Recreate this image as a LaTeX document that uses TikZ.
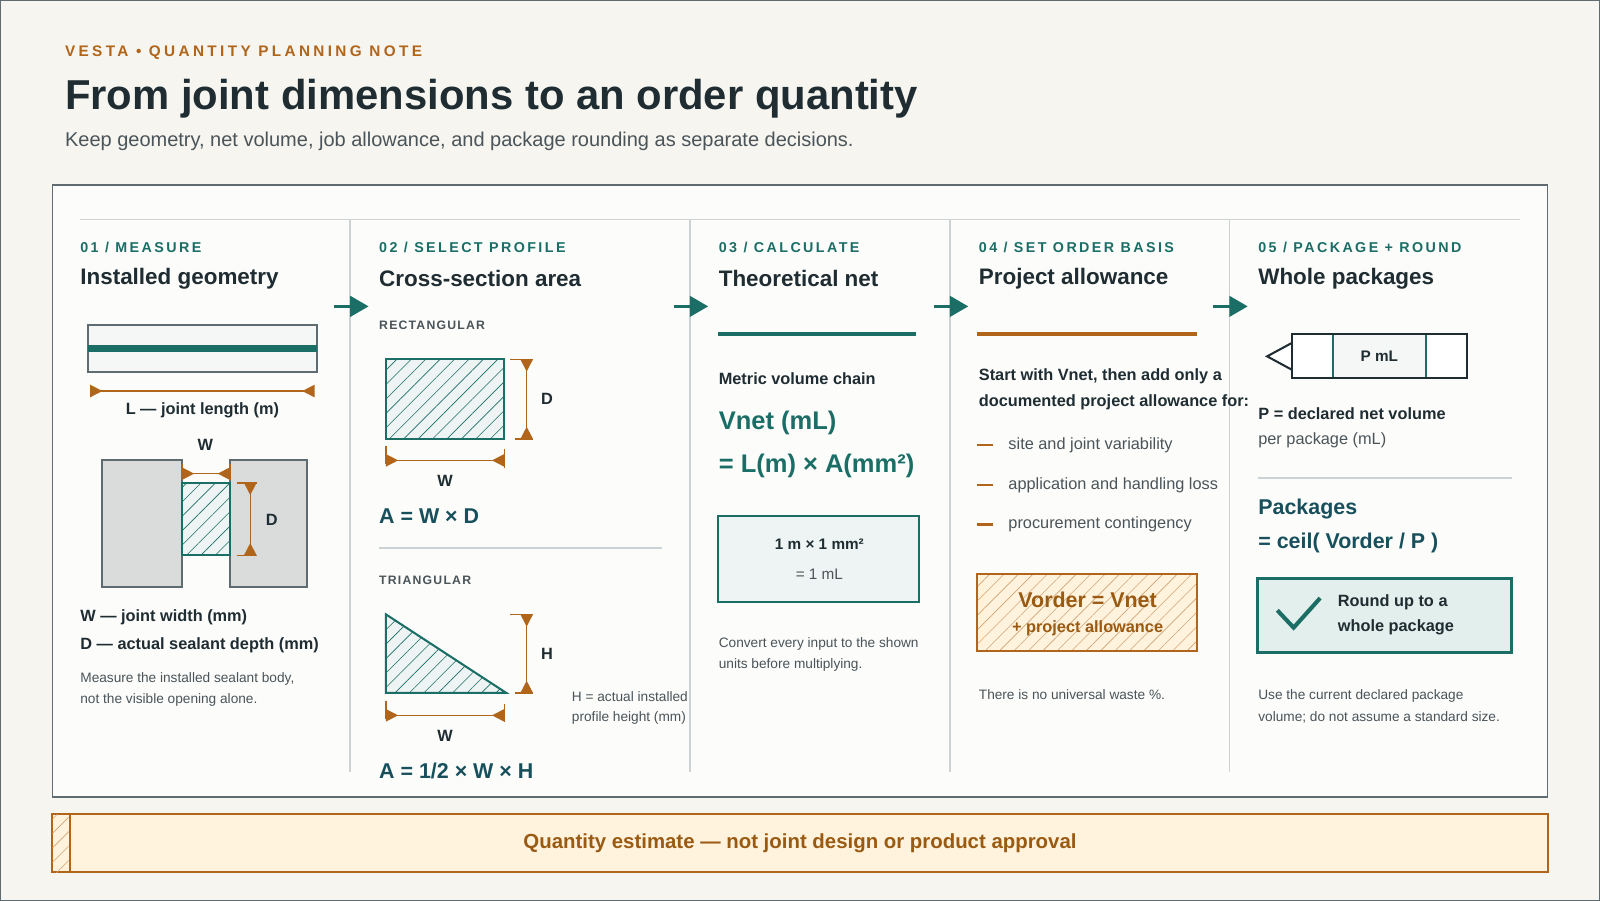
\documentclass[tikz,border=0pt]{standalone}
\usepackage{fontspec}
\setmainfont{Liberation Sans}
\usetikzlibrary{arrows.meta,patterns.meta}
\definecolor{bg}{HTML}{F6F5F0}
\definecolor{panel}{HTML}{FCFCFA}
\definecolor{teal}{HTML}{1A6E66}
\definecolor{navy}{HTML}{17505C}
\definecolor{orng}{HTML}{B0651A}
\definecolor{brown}{HTML}{9A5A12}
\definecolor{ink}{HTML}{1F2D33}
\definecolor{gtx}{HTML}{4A5459}
\definecolor{edge}{HTML}{5E6B70}
\definecolor{rule}{HTML}{CDD3D5}
\definecolor{cream}{HTML}{FFF3DE}
\definecolor{mint}{HTML}{E3EFEC}
\definecolor{pale}{HTML}{EEF4F3}
\definecolor{stone}{HTML}{D9DCDB}
\newcommand{\fs}[1]{\fontsize{#1}{#1}\selectfont}
\tikzset{
 t/.style={inner sep=0pt,anchor=west},
 stp/.style={t,font=\fs{7}\bfseries\addfontfeature{LetterSpace=17},text=teal},
 head/.style={t,font=\fs{11}\bfseries,text=ink},
 body/.style={t,font=\fs{8}\bfseries,text=ink},
 note/.style={t,font=\fs{6.7},text=gtx},
 lite/.style={t,font=\fs{8},text=gtx},
 flow/.style={teal,line width=1.5pt,-{Triangle[length=9pt,width=10pt]}},
 dim/.style={orng,line width=0.7pt,{Triangle[reversed,length=6pt,width=6pt]}-{Triangle[reversed,length=6pt,width=6pt]}},
 sep/.style={rule,line width=0.8pt},
 hatch/.style={fill=pale,draw=teal,line width=1pt},
 hl/.style={pattern={Lines[angle=45,distance=5pt,line width=0.3pt]},pattern color=teal},
}
\begin{document}
\begin{tikzpicture}[x=0.5pt,y=-0.5pt]
\path[use as bounding box,fill=bg,draw=edge] (0,0) rectangle (1568,882);
\node[t,font=\fs{7.5}\bfseries\addfontfeature{LetterSpace=22},text=orng] (kick) at (63,51) {VESTA • QUANTITY PLANNING NOTE};
\node[t,font=\fs{20.5}\bfseries,text=ink] (title) at (63,96) {From joint dimensions to an order quantity};
\node[t,font=\fs{9.8},text=gtx] (sub) at (63,138) {Keep geometry, net volume, job allowance, and package rounding as separate decisions.};
\draw[fill=panel,draw=edge,line width=0.8pt] (51,181) rectangle (1517,781);
\draw[sep] (78,215) -- (1490,215);
\foreach \x in {343,676,931,1205} \draw[sep] (\x,215) -- (\x,757);
\foreach \x in {327,660,915,1189} \draw[flow] (\x,300) -- (\x+34,300);
% headers
\node[stp] (s1) at (78,242) {01 / MEASURE};
\node[head] (h1) at (78,273) {Installed geometry};
\node[stp] (s2) at (371,242) {02 / SELECT PROFILE};
\node[head] (h2) at (371,273) {Cross-section area};
\node[stp] (s3) at (704,242) {03 / CALCULATE};
\node[head] (h3) at (704,273) {Theoretical net};
\node[stp] (s4) at (959,242) {04 / SET ORDER BASIS};
\node[head] (h4) at (959,273) {Project allowance};
\node[stp] (s5) at (1233,242) {05 / PACKAGE + ROUND};
\node[head] (h5) at (1233,273) {Whole packages};
% col1
\draw[fill=pale!60!stone!40,draw=edge,line width=1pt] (86,318) rectangle (310,364);
\draw[teal,line width=3.5pt] (86,341) -- (310,341);
\draw[dim] (88,383) -- (308,383);
\node[body,anchor=center] (ll) at (198,402) {L — joint length (m)};
\node[body,anchor=center] (wl) at (201,436) {W};
\draw[fill=stone,draw=edge,line width=1pt] (100,451) rectangle (178,575);
\draw[fill=stone,draw=edge,line width=1pt] (225,451) rectangle (301,575);
\draw[hatch] (178,473) rectangle (225,544);
\path[hl] (178,473) rectangle (225,544);
\draw[orng,line width=0.7pt] (178,455) -- (178,470) (225,455) -- (225,470);
\draw[dim] (178,464) -- (225,464);
\draw[orng,line width=0.7pt] (232,473) -- (252,473) (232,544) -- (252,544);
\draw[dim] (245,473) -- (245,544);
\node[body,anchor=center] (dl) at (266,509) {D};
\node[body] (w1) at (78,605) {W — joint width (mm)};
\node[body] (d1) at (78,632) {D — actual sealant depth (mm)};
\node[note] (m1) at (78,665) {Measure the installed sealant body,};
\node[note] (m2) at (78,686) {not the visible opening alone.};
% col2
\node[t,font=\fs{6}\bfseries\addfontfeature{LetterSpace=10},text=gtx] (rect) at (371,319) {RECTANGULAR};
\draw[hatch] (378,352) rectangle (494,430);
\path[hl] (378,352) rectangle (494,430);
\draw[orng,line width=0.7pt] (500,352) -- (522,352) (505,430) -- (522,430);
\draw[dim] (516,352) -- (516,430);
\node[body,anchor=center] (rd) at (536,391) {D};
\draw[orng,line width=0.7pt] (378,437) -- (378,455) (494,440) -- (494,458);
\draw[dim] (378,451) -- (494,451);
\node[body,anchor=center] (rw) at (436,471) {W};
\node[t,font=\fs{10.5}\bfseries,text=navy] (ra) at (371,506) {A = W × D};
\draw[sep] (371,537) -- (649,537);
\node[t,font=\fs{6}\bfseries\addfontfeature{LetterSpace=10},text=gtx] (tri) at (371,569) {TRIANGULAR};
\draw[hatch] (378,602) -- (378,679) -- (496,679) -- cycle;
\path[hl] (378,602) -- (378,679) -- (496,679) -- cycle;
\draw[orng,line width=0.7pt] (500,602) -- (522,602) (505,679) -- (522,679);
\draw[dim] (516,602) -- (516,679);
\node[body,anchor=center] (th) at (536,641) {H};
\draw[orng,line width=0.7pt] (378,687) -- (378,705) (494,690) -- (494,708);
\draw[dim] (378,701) -- (494,701);
\node[body,anchor=center] (tw) at (436,721) {W};
\node[t,font=\fs{10.5}\bfseries,text=navy] (ta) at (371,756) {A = 1/2 × W × H};
\node[note] (hn1) at (560,683) {H = actual installed};
\node[note] (hn2) at (560,704) {profile height (mm)};
% col3
\draw[teal,line width=2pt] (704,327) -- (898,327);
\node[body] (mvc) at (704,371) {Metric volume chain};
\node[t,font=\fs{12.5}\bfseries,text=teal] (vn) at (704,414) {Vnet (mL)};
\node[t,font=\fs{12.5}\bfseries,text=teal] (vf) at (704,456) {= L(m) × A(mm²)};
\draw[fill=pale,draw=teal,line width=1pt] (704,506) rectangle (901,590);
\node[t,anchor=center,font=\fs{7.5}\bfseries,text=ink] (u1) at (803,533) {1 m × 1 mm²};
\node[t,anchor=center,font=\fs{7.5},text=gtx] (u2) at (803,563) {= 1 mL};
\node[note] (c1) at (704,631) {Convert every input to the shown};
\node[note] (c2) at (704,652) {units before multiplying.};
% col4
\draw[orng,line width=2pt] (958,327) -- (1173,327);
\node[body] (sw1) at (959,369) {Start with Vnet, then add only a};
\node[body] (sw2) at (959,394) {documented project allowance for:};
\foreach \y/\tx/\n in {436/site and joint variability/b1,475/application and handling loss/b2,514/procurement contingency/b3}{
 \draw[orng,line width=1.3pt] (958,\y) -- (973,\y);
 \node[lite] (\n) at (988,\y) {\tx};
}
\draw[fill=cream,draw=orng,line width=1pt] (958,562) rectangle (1173,638);
\path[pattern={Lines[angle=45,distance=5pt,line width=0.3pt]},pattern color=orng!60] (958,562) rectangle (1173,638);
\draw[orng,line width=1pt] (958,562) rectangle (1173,638);
\node[t,anchor=center,font=\fs{10.5}\bfseries,text=brown] (vo) at (1066,588) {Vorder = Vnet};
\node[t,anchor=center,font=\fs{8}\bfseries,text=brown] (pa) at (1066,616) {+ project allowance};
\node[note] (uw) at (959,681) {There is no universal waste \%.};
% col5
\draw[fill=white,draw=ink,line width=1pt] (1266,336) -- (1242,349) -- (1266,362);
\draw[fill=white,draw=ink,line width=1pt] (1266,327) rectangle (1438,370);
\draw[fill=pale!60!stone!40,draw=teal,line width=1pt] (1307,327) rectangle (1398,370);
\draw[ink,line width=1pt] (1266,327) rectangle (1438,370);
\node[t,anchor=center,font=\fs{7.5}\bfseries,text=ink] (pml) at (1352,349) {P mL};
\node[body] (pd) at (1233,405) {P = declared net volume};
\node[lite] (pp) at (1233,431) {per package (mL)};
\draw[sep] (1233,468) -- (1482,468);
\node[t,font=\fs{10.5}\bfseries,text=navy] (pk) at (1233,499) {Packages};
\node[t,font=\fs{10.5}\bfseries,text=navy] (pc) at (1233,532) {= ceil( Vorder / P )};
\draw[fill=mint,draw=teal,line width=1.5pt] (1233,567) rectangle (1482,639);
\draw[teal,line width=2pt] (1252,598) -- (1268,615) -- (1294,586);
\node[body] (r1) at (1311,590) {Round up to a};
\node[body] (r2) at (1311,615) {whole package};
\node[note] (dp1) at (1233,682) {Use the current declared package};
\node[note] (dp2) at (1233,703) {volume; do not assume a standard size.};
% footer
\draw[fill=cream,draw=orng,line width=1pt] (51,798) rectangle (1517,855);
\path[pattern={Lines[angle=45,distance=5pt,line width=0.3pt]},pattern color=orng!60] (51,798) rectangle (68,855);
\draw[orng,line width=0.8pt] (68,798) -- (68,855);
\node[t,anchor=center,font=\fs{10}\bfseries,text=brown] (ft) at (784,826) {Quantity estimate — not joint design or product approval};
\end{tikzpicture}
\end{document}
